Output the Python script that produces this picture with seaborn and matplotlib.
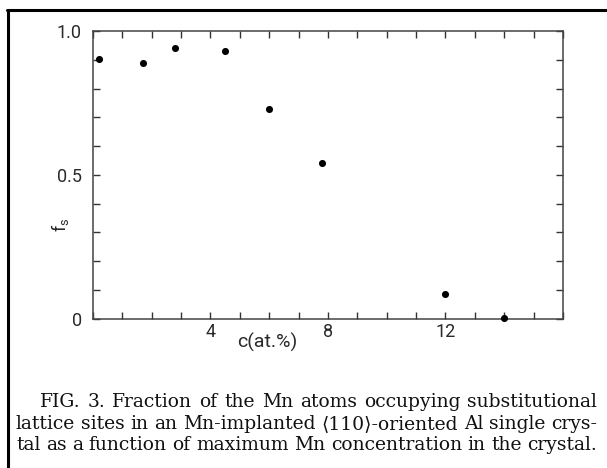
import matplotlib
matplotlib.use("Agg")
import matplotlib.pyplot as plt
from matplotlib.ticker import MultipleLocator, FixedLocator
from matplotlib.lines import Line2D
import seaborn as sns
import pandas as pd

# data
conc = [0.2, 1.7, 2.8, 4.5, 6.0, 7.8, 12.0, 14.0]
frac = [0.905, 0.891, 0.941, 0.932, 0.730, 0.543, 0.084, 0.003]
xticks_major = [4, 8, 12]
yticks_major = [0, 0.5, 1.0]
ytick_labels = ["0", "0.5", "1.0"]
caption_lines = [
    "FIG. 3.  Fraction of the Mn atoms occupying substitutional",
    "lattice sites in an Mn-implanted \u27e8110\u27e9-oriented Al single crys-",
    "tal as a function of maximum Mn concentration in the crystal.",
]

sns.set_style("white")
plt.rcParams["font.family"] = ["Roboto", "DejaVu Sans"]
plt.rcParams["mathtext.default"] = "regular"
plt.rcParams["mathtext.fontset"] = "custom"
plt.rcParams["mathtext.rm"] = "Roboto"

NARROW = ["Roboto", "DejaVu Sans"]
SERIF = ["DejaVu Serif"]

df = pd.DataFrame({"c": conc, "fs": frac})

fig = plt.figure(figsize=(6.07, 4.68), dpi=100)
ax = fig.add_axes([0.1532, 0.3194, 0.7743, 0.6137])
sns.scatterplot(data=df, x="c", y="fs", ax=ax, color="black", s=26,
                edgecolor="black", linewidth=0, clip_on=False, zorder=3)

ax.set_xlim(0, 16)
ax.set_ylim(0, 1.0)
ax.xaxis.set_major_locator(FixedLocator(xticks_major))
ax.xaxis.set_minor_locator(MultipleLocator(1))
ax.yaxis.set_major_locator(FixedLocator(yticks_major))
ax.yaxis.set_minor_locator(MultipleLocator(0.1))
ax.set_yticklabels(ytick_labels)

for lab in ax.get_xticklabels() + ax.get_yticklabels():
    lab.set_fontfamily(NARROW)
    lab.set_fontsize(13)
    lab.set_color("#2a2a2a")

ax.tick_params(which="both", direction="in", top=True, right=True,
               bottom=True, left=True, length=5, width=1.0, color="#333333")
ax.tick_params(axis="x", which="major", pad=3)
ax.tick_params(axis="y", which="major", pad=8)
for sp in ax.spines.values():
    sp.set_color("#444444")
    sp.set_linewidth(1.1)

ax.set_xlabel("")
ax.set_ylabel("")
fig.text(60 / 607, 1 - 225 / 468, "$f_s$", rotation=90, ha="center",
         va="center", fontsize=13, color="#2a2a2a", fontfamily=NARROW)
fig.text(267 / 607, 1 - 342 / 468, "c(at.%)", ha="center", va="center",
         fontsize=14, color="#2a2a2a", fontfamily=NARROW)

# caption, justified between left and right margins
cap_x = [40, 16, 16]
cap_right = 597
cap_y = [402, 424, 445]
cap_size = 13.5
renderer = fig.canvas.get_renderer()
for txt, x0, y in zip(caption_lines, cap_x, cap_y):
    words = txt.split()
    arts = [fig.text(0, 1 - y / 468, w, ha="left", va="center",
                     fontsize=cap_size, color="#111111", fontfamily=SERIF)
            for w in words]
    widths = [a.get_window_extent(renderer).width for a in arts]
    gap = (cap_right - x0 - sum(widths)) / (len(words) - 1)
    xpos = x0
    for a, w in zip(arts, widths):
        a.set_x(xpos / 607)
        xpos += w + gap

# page border
fig.add_artist(Line2D([8 / 607, 8 / 607], [0, 1 - 10 / 468],
                      transform=fig.transFigure, color="black", lw=2.2))
fig.add_artist(Line2D([7 / 607, 1], [1 - 10 / 468, 1 - 10 / 468],
                      transform=fig.transFigure, color="black", lw=2.2))

fig.savefig("out.png", dpi=100, facecolor="white")
